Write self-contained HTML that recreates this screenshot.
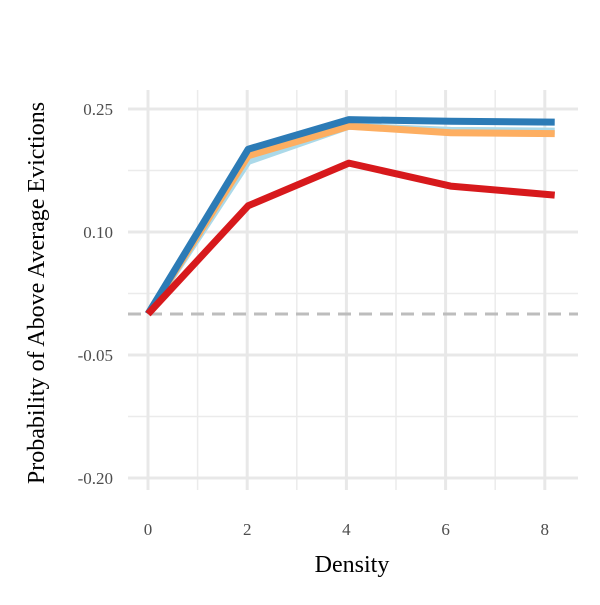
<!DOCTYPE html>
<html><head><meta charset="utf-8"><style>
body{margin:0;background:#fff}
text{font-family:"Liberation Serif",serif}
</style></head><body>
<svg id="chart" width="600" height="600" xmlns="http://www.w3.org/2000/svg">
<rect width="600" height="600" fill="#fff"/>
<g id="grid"></g>
<g id="series"></g>
<g id="ticks"></g>
<text x="352" y="572" text-anchor="middle" font-size="24" fill="#000">Density</text>
<text transform="translate(44,293) rotate(-90)" text-anchor="middle" font-size="24" fill="#000">Probability of Above Average Evictions</text>
</svg>
<script>
const xTicks=[0,2,4,6,8];
const xMinor=[1,3,5,7];
const yTicks=[0.25,0.10,-0.05,-0.20];
const yTickLabels=["0.25","0.10","-0.05","-0.20"];
const yMinor=[0.175,0.025,-0.125];
const densities=[0,2.02,4.05,6.1,8.2];
const seriesNames=["light-blue","orange","dark-blue","red"];
const seriesColors=["#abd9e9","#fdae61","#2c7bb6","#d7191c"];
const lightBlueVals=[0,0.186,0.229,0.224,0.223];
const orangeVals=[0,0.193,0.229,0.221,0.220];
const darkBlueVals=[0,0.201,0.237,0.235,0.234];
const redVals=[0,0.132,0.184,0.156,0.145];
const seriesVals=[lightBlueVals,orangeVals,darkBlueVals,redVals];
const NS="http://www.w3.org/2000/svg";
const X=v=>148+v*49.6;
const Y=v=>314-v*820;
const L=128,R=578,T=90,B=490;
function mk(tag,attrs,parent){const e=document.createElementNS(NS,tag);for(const k in attrs)e.setAttribute(k,attrs[k]);parent.appendChild(e);return e;}
const grid=document.getElementById('grid'),ser=document.getElementById('series'),tk=document.getElementById('ticks');
xMinor.forEach(v=>{const e=mk('line',{x1:X(v),x2:X(v),y1:T,y2:B,stroke:'#ebebeb','stroke-width':1.5},grid);

});
yMinor.forEach(v=>{const e=mk('line',{x1:L,x2:R,y1:Y(v),y2:Y(v),stroke:'#ebebeb','stroke-width':1.5},grid);

});
xTicks.forEach(v=>{const e=mk('line',{x1:X(v),x2:X(v),y1:T,y2:B,stroke:'#e8e8e8','stroke-width':3},grid);


const t=mk('text',{x:X(v),y:535,'text-anchor':'middle','font-size':17,fill:'#4d4d4d'},tk);t.textContent=v;

});
yTicks.forEach((v,i)=>{const e=mk('line',{x1:L,x2:R,y1:Y(v),y2:Y(v),stroke:'#e8e8e8','stroke-width':3},grid);


const t=mk('text',{x:113,y:Y(v)+6,'text-anchor':'end','font-size':17,fill:'#4d4d4d'},tk);t.textContent=yTickLabels[i];

});
const ref=mk('line',{x1:L,x2:R,y1:Y(0),y2:Y(0),stroke:'#bdbdbd','stroke-width':3,'stroke-dasharray':'13,8'},ser);


seriesVals.forEach((vals,i)=>{const pts=vals.map((v,j)=>X(densities[j])+','+Y(v)).join(' ');
const p=mk('polyline',{points:pts,fill:'none',stroke:seriesColors[i],'stroke-width':7,'stroke-linejoin':'round'},ser);

});
</script>
</body></html>
